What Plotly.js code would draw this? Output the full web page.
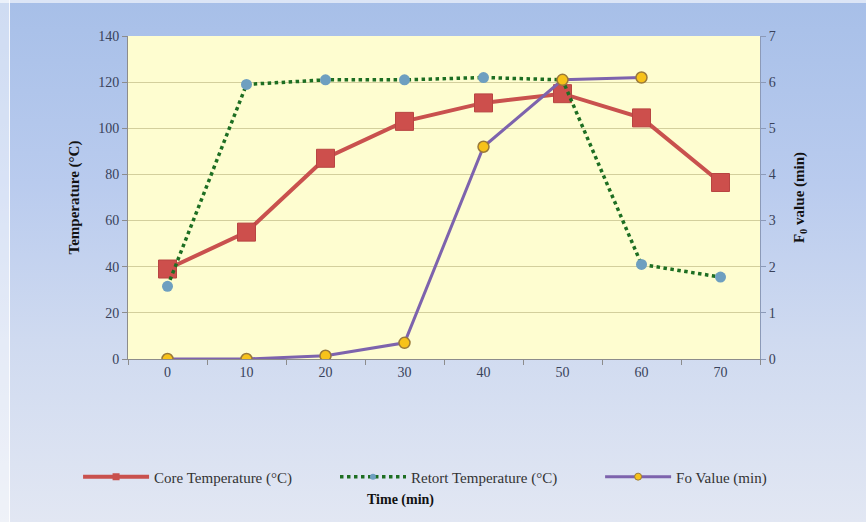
<!DOCTYPE html>
<html>
<head>
<meta charset="utf-8">
<script src="https://cdn.plot.ly/plotly-3.0.1.min.js"></script>
<style>
  html, body { margin: 0; padding: 0; }
  #wrap { position: relative; width: 866px; height: 522px; overflow: hidden;
          background: linear-gradient(to bottom, #a7bfe8 0%, #b9cbee 35%, #cfdaf0 65%, #e2e7f3 100%); }
  #edge { position: absolute; left: 0; top: 0; width: 9px; height: 522px;
          background: rgba(255,255,255,0.45); border-right: 1px solid rgba(255,255,255,0.8); }
  #topedge { position: absolute; left: 0; top: 0; width: 866px; height: 3px; background: rgba(255,255,255,0.6); }
  #chart { position: absolute; left: 0; top: 0; width: 866px; height: 522px; }
</style>
</head>
<body>
<div id="wrap"><div id="edge"></div><div id="topedge"></div><div id="chart"></div></div>
<script>
// Data
const time = [0, 10, 20, 30, 40, 50, 60, 70];
const coreTemp = [39, 55, 87, 103, 111, 115, 104.5, 76.5];
const retortTemp = [31.5, 119, 121, 121, 122, 121, 41, 35.5];
const foTime = [0, 10, 20, 30, 40, 50, 60];
const foValue = [0, 0, 0.07, 0.35, 4.6, 6.05, 6.1];
const yTicksLeft = [0, 20, 40, 60, 80, 100, 120, 140];
const yTicksRight = [0, 1, 2, 3, 4, 5, 6, 7];
const seriesNames = ["Core Temperature (°C)", "Retort Temperature (°C)", "Fo Value (min)"];

const serif = "Liberation Serif, Times New Roman, serif";
const tickFont = { family: serif, size: 14, color: "#39425a" };

const coreLine = { color: "#c9514e", width: 4 };
const retortLine = { color: "#1d6e22", width: 3.5, dash: "dot" };
const foLine = { color: "#7d63ad", width: 3 };

const traces = [
  {
    x: time, y: coreTemp, name: seriesNames[0], type: "scatter", mode: "lines+markers", showlegend: false,
    line: coreLine,
    marker: { symbol: "square", size: 18, color: "#cd4f4c", line: { color: "#b84542", width: 1 } }
  },
  {
    x: time, y: retortTemp, name: seriesNames[1], type: "scatter", mode: "lines+markers", showlegend: false,
    line: retortLine,
    marker: { symbol: "circle", size: 11, color: "#6e9fc0" }
  },
  {
    x: foTime, y: foValue, name: seriesNames[2], type: "scatter", mode: "lines+markers", yaxis: "y2", showlegend: false,
    line: foLine,
    marker: { symbol: "circle", size: 11, color: "#f7c21a", line: { color: "#9a7a3a", width: 1.5 } }
  },
  // legend-only entries (small legend markers, like the reference)
  { x: [null], y: [null], name: seriesNames[0], type: "scatter", mode: "lines+markers", legend: "legend",
    line: coreLine, marker: { symbol: "square", size: 7, color: "#c9514e" } },
  { x: [null], y: [null], name: seriesNames[1], type: "scatter", mode: "lines+markers", legend: "legend2",
    line: retortLine, marker: { symbol: "circle", size: 6, color: "#6e9fc0" } },
  { x: [null], y: [null], name: seriesNames[2], type: "scatter", mode: "lines+markers", legend: "legend3",
    line: foLine, marker: { symbol: "circle", size: 7, color: "#f7c21a", line: { color: "#9a7a3a", width: 1 } } }
];

const legendBase = { orientation: "h", yanchor: "middle", y: -0.365, xanchor: "left",
  bgcolor: "rgba(0,0,0,0)", font: { family: serif, size: 15, color: "#333" }, itemwidth: 66 };

const layout = {
  width: 866, height: 522,
  margin: { l: 128, r: 106, t: 36, b: 163 },
  paper_bgcolor: "rgba(0,0,0,0)",
  plot_bgcolor: "#fefdd0",
  showlegend: true,
  legend: Object.assign({}, legendBase, { x: -0.079 }),
  legend2: Object.assign({}, legendBase, { x: 0.3275 }),
  legend3: Object.assign({}, legendBase, { x: 0.747 }),
  xaxis: {
    range: [-5, 75], tickvals: time, ticktext: time.map(String),
    showgrid: false, zeroline: false, showline: true, linecolor: "#8c8c8c", linewidth: 1,
    ticks: "", tickfont: tickFont,
    minor: { tick0: -5, dtick: 10, ticks: "outside", ticklen: 5, tickcolor: "#8c8c8c", showgrid: false }
  },
  yaxis: {
    range: [0, 140], tickvals: yTicksLeft, showgrid: true, gridcolor: "#d3cf9c", gridwidth: 1.2,
    zeroline: false, showline: true, linecolor: "#8c8c8c", ticks: "outside", ticklen: 5, tickcolor: "#8c8c8c",
    tickfont: tickFont,
    title: { text: "Temperature (°C)", font: { family: serif, size: 15, color: "#111", weight: "bold" }, standoff: 14 }
  },
  yaxis2: {
    range: [0, 7], tickvals: yTicksRight, overlaying: "y", side: "right", showgrid: false, zeroline: false,
    showline: true, linecolor: "#8c9ab8", ticks: "outside", ticklen: 5, tickcolor: "#8c9ab8",
    tickfont: tickFont,
    title: { text: "F<sub>0</sub> value (min)", font: { family: serif, size: 15, color: "#111", weight: "bold" }, standoff: 18 }
  },
  annotations: [
    { text: "<b>Time (min)</b>", xref: "paper", yref: "paper", x: (400 - 128) / 632, y: (359 - 500) / 323,
      xanchor: "center", yanchor: "middle", showarrow: false, font: { family: serif, size: 14, color: "#111" } }
  ]
};

Plotly.newPlot("chart", traces, layout, { displayModeBar: false, staticPlot: true });
</script>
</body>
</html>
